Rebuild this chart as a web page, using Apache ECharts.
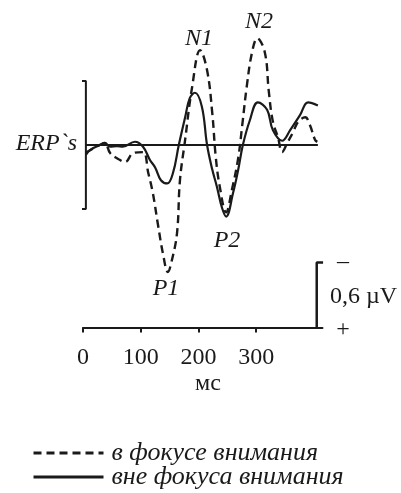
<!DOCTYPE html>
<html>
<head>
    <meta charset="utf-8">
    <script src="https://cdn.jsdelivr.net/npm/echarts@6/dist/echarts.min.js"></script>
    <style>
        html, body { margin: 0; padding: 0; background: #fff; }
    </style>
</head>
<body>
    <div id="main" style="width: 401px;height:493px"></div>

    <script type="text/javascript">
        // время (мс), амплитуда (мкВ), минус вверх
        var inFocus = [
            [5, 0.07], [29, 0], [38, -0.02], [47, 0.075], [61, 0.13], [73, 0.16],
            [87, 0.075], [104, 0.066], [113, 0.26], [121, 0.45], [130, 0.75],
            [139, 1.03], [147, 1.19], [154, 1.08], [163, 0.82], [168, 0.33],
            [177, -0.05], [189, -0.54], [203, -0.89], [215, -0.70], [224, -0.30],
            [230, 0.11], [237, 0.39], [248, 0.63], [258, 0.42], [269, 0.12],
            [276, -0.19], [284, -0.56], [293, -0.87], [302, -1.00], [315, -0.87],
            [322, -0.50], [329, -0.22], [338, -0.07], [345, 0.066], [354, -0.02],
            [364, -0.12], [373, -0.22], [385, -0.26], [393, -0.19], [402, -0.05],
            [406, -0.03]
        ];
        var outFocus = [
            [5, 0.094], [12, 0.047], [29, 0], [38, -0.02], [47, 0.016], [59, 0.01],
            [69, 0.016], [90, -0.031], [104, 0.016], [116, 0.14], [125, 0.21],
            [135, 0.33], [146, 0.36], [156, 0.26], [166, 0], [177, -0.26],
            [185, -0.44], [194, -0.49], [206, -0.36], [215, 0], [224, 0.23],
            [232, 0.39], [241, 0.59], [248, 0.67], [260, 0.45], [269, 0.23],
            [277, 0], [289, -0.23], [303, -0.40], [319, -0.33], [329, -0.14],
            [345, -0.04], [359, -0.14], [376, -0.28], [390, -0.40], [407, -0.37]
        ];
        var baseline = [[5, 0], [407, 0]];
        var ampBracket = [[-5, -0.6], [5, -0.6], [5, 0.6], [-5, 0.6]];
        var scaleBar = [[416, 1.1], [405, 1.1], [405, 1.71]];
        var tickValues = [0, 100, 200, 300];
        var seriesNames = ['в фокусе внимания', 'вне фокуса внимания'];

        var ink = '#1a1a1a';
        var serif = '"Liberation Serif", "DejaVu Serif", serif';

        function label(txt, x, y, italic, align) {
            return {
                type: 'text', x: x, y: y,
                style: {
                    text: txt, fill: ink, font: (italic ? 'italic ' : '') + '24px ' + serif,
                    textAlign: align || 'center', textVerticalAlign: 'middle'
                }
            };
        }

        var myChart = echarts.init(document.getElementById('main'));
        var option = {
            animation: false,
            grid: { left: 83, top: 17, width: 239.5, height: 310.5 },
            legend: {
                data: seriesNames,
                orient: 'vertical',
                left: 32, top: 440, bottom: 0,
                padding: 0,
                itemWidth: 70, itemHeight: 14, itemGap: -2,
                lineStyle: { width: 3 },
                itemStyle: { opacity: 0 },
                textStyle: { color: ink, fontFamily: serif, fontStyle: 'italic', fontSize: 26, lineHeight: 23, padding: [0, 0, 0, 3] }
            },
            xAxis: {
                type: 'value', min: 0, max: 415,
                splitLine: { show: false },
                axisLine: { onZero: false, lineStyle: { color: ink, width: 2 } },
                axisTick: { customValues: tickValues, length: 5, lineStyle: { color: ink, width: 2 } },
                axisLabel: { customValues: tickValues, margin: 18, color: ink, fontFamily: serif, fontSize: 24 }
            },
            yAxis: {
                type: 'value', min: -1.2, max: 1.71, inverse: true, show: false
            },
            graphic: [
                label('ERP`s', 77, 144, true, 'right'),
                label('N1', 199, 39, true),
                label('N2', 259, 22, true),
                label('P2', 227, 241, true),
                label('P1', 166, 289, true),
                label('–', 343, 262, false),
                label('0,6 µV', 330, 297, false, 'left'),
                label('+', 343, 330, false),
                label('мс', 208, 384, false)
            ],
            series: [{
                name: seriesNames[0],
                type: 'line', data: inFocus, smooth: 0.4, symbol: 'none',
                lineStyle: { color: ink, width: 2.4, type: [8, 5] },
                itemStyle: { color: ink }
            }, {
                name: seriesNames[1],
                type: 'line', data: outFocus, smooth: 0.4, symbol: 'none',
                lineStyle: { color: ink, width: 2.2 },
                itemStyle: { color: ink }
            }, {
                type: 'line', data: baseline, symbol: 'none', silent: true,
                lineStyle: { color: ink, width: 2 }
            }, {
                type: 'line', data: ampBracket, symbol: 'none', silent: true, clip: false,
                lineStyle: { color: ink, width: 2 }
            }, {
                type: 'line', data: scaleBar, symbol: 'none', silent: true, clip: false,
                lineStyle: { color: ink, width: 2.5 }
            }]
        };

        myChart.setOption(option);
    </script>
</body>
</html>
